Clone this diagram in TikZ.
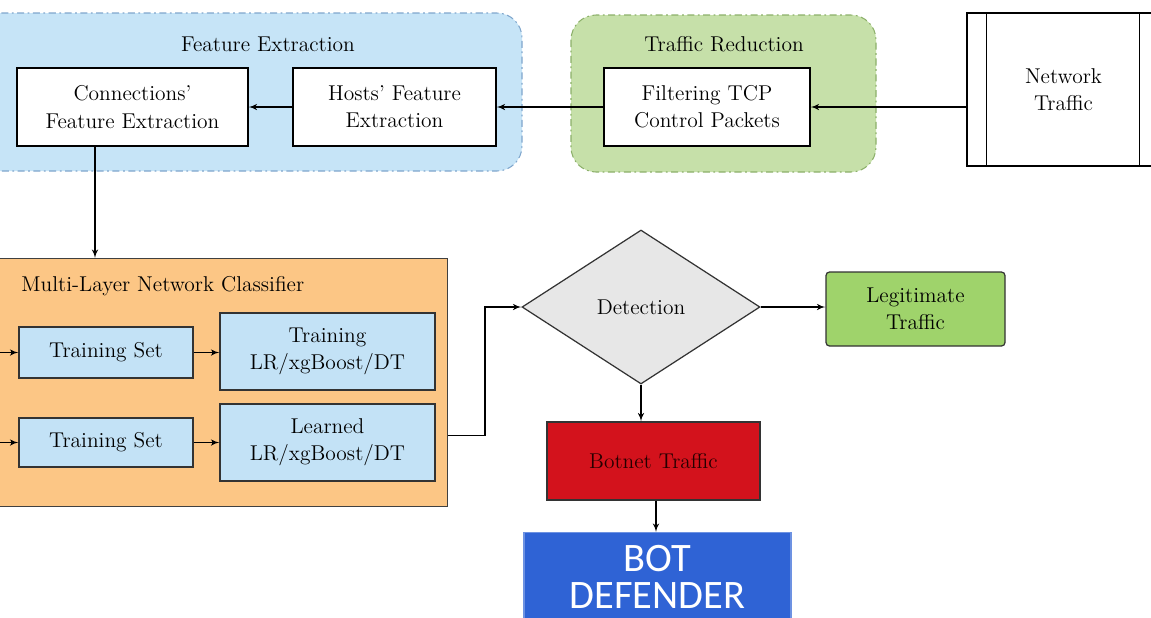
\documentclass[tikz,border=0pt]{standalone}
\usepackage{fontspec}
\newfontfamily\bdfont{Carlito}
\usepackage{xcolor}
\usepackage{tikz}
\usetikzlibrary{arrows,calc}
\usetikzlibrary{shapes.geometric}

\definecolor{regblue}{HTML}{C6E4F7}
\definecolor{regblueline}{HTML}{7FA6CC}
\definecolor{reggreen}{HTML}{C6E0A9}
\definecolor{reggreenline}{HTML}{8CB06A}
\definecolor{clsorange}{HTML}{FCC685}
\definecolor{setblue}{HTML}{C3E2F6}
\definecolor{detgray}{HTML}{E7E7E7}
\definecolor{legitgreen}{HTML}{9FD36B}
\definecolor{botred}{HTML}{D3121C}
\definecolor{defblue}{HTML}{2F63D5}

\begin{document}
\begin{tikzpicture}[>=latex', line width=0.7pt,
  every node/.style={font=\fontsize{12.2}{15.5}\selectfont},
  region/.style={rounded corners=0.5cm, line width=0.6pt, dash pattern=on 4pt off 2pt on 1pt off 2pt},
  wbox/.style={rectangle, draw=black, fill=white, align=center, minimum height=1.56cm},
  sbox/.style={rectangle, draw=black!80, fill=setblue, align=center}]

\useasboundingbox (0,0) rectangle (23.02,-12.34);
\clip (0,0) rectangle (23.02,-12.34);

% feature extraction and traffic reduction stages
\draw[region, draw=regblueline, fill=regblue] (-1,-0.26) rectangle (10.44,-3.42);
\node (fe) at (5.36,-0.88) {Feature Extraction};
\draw[region, draw=reggreenline, fill=reggreen] (11.42,-0.30) rectangle (17.52,-3.44);
\node (tr) at (14.48,-0.88) {Traffic Reduction};

\node[wbox, minimum width=4.62cm] (conn) at (2.65,-2.14) {Connections'\\Feature Extraction};
\node[wbox, minimum width=4.06cm] (hosts) at (7.89,-2.14) {Hosts' Feature\\Extraction};
\node[wbox, minimum width=4.12cm] (filter) at (14.14,-2.14) {Filtering TCP\\Control Packets};

\node[rectangle, draw=black, fill=white, minimum width=3.86cm, minimum height=3.06cm, align=center] (nt) at (21.27,-1.79) {Network\\Traffic};
\draw ($(nt.north west)+(0.4,0)$) -- ($(nt.south west)+(0.4,0)$);
\draw ($(nt.north east)+(-0.42,0)$) -- ($(nt.south east)+(-0.42,0)$);

\draw[->] (nt.west |- filter.east) -- (filter.east);
\draw[->] (filter.west) -- (hosts.east);
\draw[->] (hosts.west) -- (conn.east);

% classifier
\node[rectangle, draw=black!75, fill=clsorange, minimum width=9.56cm, minimum height=4.96cm, anchor=north east] (mlnc) at (8.96,-5.16) {};
\node[anchor=west] (mlnct) at (0.3,-5.72) {Multi-Layer Network Classifier};
\draw[->] ([xshift=-0.75cm]conn.south) -- ([xshift=-0.75cm]conn.south |- mlnc.north);

\node[sbox, minimum width=3.48cm, minimum height=1.02cm] (ts1) at (2.12,-7.05) {Training Set};
\node[sbox, minimum width=4.3cm, minimum height=1.54cm] (tr1) at (6.55,-7.03) {Training\\LR/xgBoost/DT};
\node[sbox, minimum width=3.48cm, minimum height=0.98cm] (ts2) at (2.12,-8.85) {Training Set};
\node[sbox, minimum width=4.3cm, minimum height=1.54cm] (lr2) at (6.55,-8.85) {Learned\\LR/xgBoost/DT};

\coordinate (in1) at (-0.3,-7.05);
\coordinate (in2) at (-0.3,-8.85);
\draw[->] (in1) -- (ts1.west);
\draw[->] (in2) -- (ts2.west);
\draw[->] (ts1.east) -- (ts1.east -| tr1.west);
\draw[->] (ts2.east) -- (lr2.west);

% detection and outputs
\node[diamond, draw=black!80, fill=detgray, minimum width=4.76cm, minimum height=3.08cm, inner sep=0pt] (det) at (12.82,-6.14) {Detection};
\node[rectangle, rounded corners=2pt, draw=black!80, fill=legitgreen, minimum width=3.58cm, minimum height=1.48cm, align=center] (legit) at (18.31,-6.18) {Legitimate\\Traffic};
\node[rectangle, draw=black!80, fill=botred, text=black!85!red, minimum width=4.26cm, minimum height=1.56cm] (botnet) at (13.07,-9.22) {Botnet Traffic};
\node[rectangle, draw=defblue!70!white, fill=defblue, text=white, anchor=north, minimum width=5.34cm, inner ysep=7pt, align=center,
  font=\bdfont\fontsize{23}{21.5}\selectfont] (bd) at (13.15,-10.64) {BOT\\DEFENDER};

\draw[->] ([yshift=-1.06cm]mlnc.east) -| (9.70,-6.14) -- (det.west);
\draw[->] (det.east) -- (det.east -| legit.west);
\draw[->] (det.south) -- (det.south |- botnet.north);
\draw[->] ([xshift=0.05cm]botnet.south) -- ([xshift=0.05cm]botnet.south |- bd.north);

\end{tikzpicture}
\end{document}
